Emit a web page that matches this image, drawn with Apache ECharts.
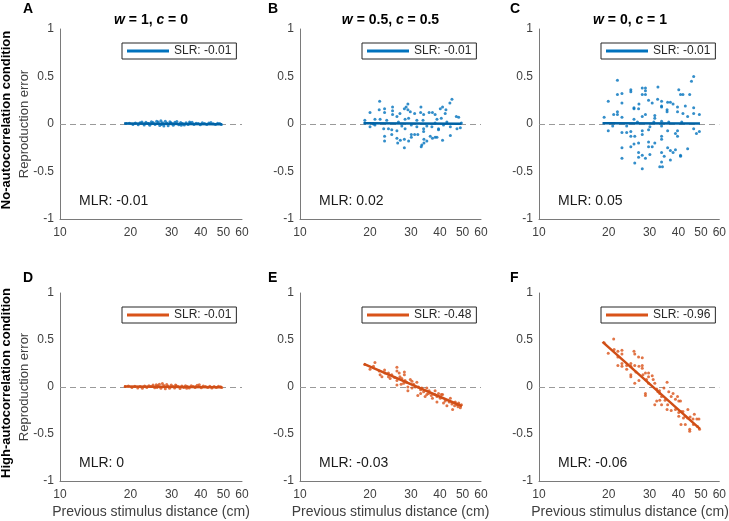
<!DOCTYPE html>
<html>
<head>
<meta charset="utf-8">
<script src="https://cdn.jsdelivr.net/npm/echarts@6/dist/echarts.min.js"></script>
<style>
  html, body { margin: 0; background: #fff; }
  #chart { width: 729px; height: 521px; }
</style>
</head>
<body>
<div id="chart"></div>
<script>
// ---- data ----
const xTicks = [10, 20, 30, 40, 50, 60];
const panelLetters = ['A', 'B', 'C', 'D', 'E', 'F'];
const panelTitles = ['{i|w} = 1, {i|c} = 0', '{i|w} = 0.5, {i|c} = 0.5', '{i|w} = 0, {i|c} = 1'];
const rowLabels = ['No-autocorrelation condition', 'High-autocorrelation condition'];
const slrLabels = ['SLR: -0.01', 'SLR: -0.01', 'SLR: -0.01', 'SLR: -0.01', 'SLR: -0.48', 'SLR: -0.96'];
const mlrLabels = ['MLR: -0.01', 'MLR: 0.02', 'MLR: 0.05', 'MLR: 0', 'MLR: -0.03', 'MLR: -0.06'];

const pointsA = [
  [19.2,0.004],[19.8,0.008],[20.5,-0.005],[21.0,0.010],[21.6,-0.008],[22.0,0.012],[22.4,0.020],[22.9,-0.010],
  [23.3,0.018],[23.8,0.006],[24.2,-0.012],[24.6,0.025],[25.0,0.015],[25.5,-0.006],[25.9,0.030],[26.3,0.022],
  [26.7,-0.015],[27.0,0.035],[27.4,0.012],[27.8,-0.020],[28.2,0.028],[28.6,0.010],[29.0,-0.018],[29.5,0.024],
  [30.0,0.005],[30.5,-0.012],[31.0,0.018],[31.6,0.026],[32.2,-0.008],[32.8,0.015],[33.4,0.004],[34.0,-0.010],
  [34.6,0.012],[35.3,-0.005],[36.0,0.010],[36.7,0.018],[37.4,-0.006],[38.2,0.008],[39.0,0.004],[39.8,-0.008],
  [40.6,0.014],[41.5,0.006],[42.4,-0.004],[43.3,0.010],[44.2,0.016],[45.2,0.002],[46.2,-0.006],[47.2,0.008],
  [48.2,0.004],[49.0,-0.004],[24.0,0.002],[27.2,-0.004],[29.8,0.012],[33.0,-0.014],[35.8,0.020]
];
const pointsB = [
  [22.0,0.24],[20.0,0.12],[21.9,0.15],[23.1,0.16],[23.1,0.12],[25.0,0.18],[25.0,0.14],[25.0,0.10],
  [26.1,0.08],[26.9,0.11],[28.1,0.16],[28.6,0.18],[29.1,0.21],[29.1,0.15],[29.8,0.13],[31.1,0.11],
  [33.1,0.18],[33.0,0.12],[34.0,0.10],[35.9,0.12],[37.1,0.12],[38.1,0.10],[40.1,0.16],[41.0,0.18],
  [42.4,0.15],[44.1,0.22],[45.0,0.26],[42.1,0.11],[19.0,0.04],[21.0,0.05],[22.1,0.05],[23.6,0.04],
  [26.5,0.02],[28.3,0.05],[29.3,0.06],[31.8,0.04],[33.8,0.04],[38.8,0.05],[40.5,0.06],[42.8,0.02],
  [47.0,0.08],[48.1,0.07],[49.4,0.01],[20.0,-0.03],[21.0,-0.01],[22.9,-0.05],[24.0,-0.05],[24.8,-0.06],
  [26.1,-0.07],[27.4,-0.02],[28.3,-0.05],[30.1,-0.01],[31.8,-0.03],[34.0,-0.05],[35.1,-0.02],[36.9,-0.03],
  [39.4,-0.05],[41.4,-0.01],[44.3,-0.03],[47.3,-0.05],[48.9,-0.04],[23.1,-0.13],[23.1,-0.18],[24.8,-0.11],
  [26.1,-0.15],[26.3,-0.20],[27.0,-0.17],[28.1,-0.16],[29.3,-0.18],[30.1,-0.11],[30.1,-0.14],[31.1,-0.11],
  [32.1,-0.11],[34.0,-0.08],[34.1,-0.16],[33.4,-0.22],[34.1,-0.20],[35.1,-0.18],[36.3,-0.13],[37.1,-0.15],
  [38.1,-0.14],[38.8,-0.14],[39.4,-0.06],[41.0,-0.17],[44.3,-0.12],[28.1,-0.25],[33.2,-0.24],[19.0,0.01],
  [38.1,0.01],[20.7,0.00]
];
const pointsC = [
  [21.8,0.46],[19.9,0.24],[21.8,0.31],[22.8,0.32],[22.8,0.22],[24.9,0.36],[24.9,0.34],[27.9,0.38],
  [28.8,0.38],[28.8,0.35],[27.9,0.31],[28.8,0.31],[32.6,0.39],[29.7,0.25],[30.8,0.22],[32.5,0.26],
  [33.8,0.24],[35.9,0.23],[36.9,0.23],[37.9,0.21],[33.8,0.18],[33.8,0.19],[35.7,0.15],[35.7,0.13],
  [40.1,0.36],[41.8,0.31],[40.8,0.31],[44.7,0.31],[45.5,0.45],[46.5,0.50],[39.6,0.18],[39.6,0.13],
  [42.8,0.19],[46.5,0.17],[46.5,0.11],[49.2,0.10],[43.8,0.08],[41.8,0.11],[25.7,0.17],[25.7,0.16],
  [26.9,0.16],[27.0,0.21],[22.8,0.07],[21.8,0.13],[21.8,0.10],[21.0,0.10],[19.1,0.07],[28.8,0.10],
  [27.9,0.08],[31.6,0.09],[31.6,0.06],[25.7,0.05],[26.6,0.02],[31.3,0.02],[33.8,0.03],[36.3,0.02],
  [41.3,0.02],[20.8,-0.02],[23.9,-0.02],[30.1,-0.03],[33.8,-0.02],[19.9,-0.07],[22.8,-0.09],[23.9,-0.09],
  [24.9,-0.08],[27.9,-0.07],[27.9,-0.11],[29.7,-0.06],[33.8,-0.13],[33.8,-0.16],[35.9,-0.07],[38.8,-0.10],
  [39.6,-0.07],[39.6,-0.13],[46.5,-0.05],[47.8,-0.10],[49.2,-0.08],[24.9,-0.13],[25.9,-0.13],[25.7,-0.21],
  [26.9,-0.20],[29.7,-0.19],[29.7,-0.24],[31.6,-0.20],[22.8,-0.25],[22.8,-0.36],[24.9,-0.24],[26.9,-0.30],
  [26.9,-0.35],[27.9,-0.33],[28.8,-0.36],[25.9,-0.41],[27.9,-0.47],[30.1,-0.32],[33.8,-0.30],[34.7,-0.34],
  [35.9,-0.25],[36.9,-0.28],[37.9,-0.30],[38.8,-0.27],[36.9,-0.38],[33.8,-0.40],[33.2,-0.45],[34.1,-0.45],
  [40.8,-0.33],[40.8,-0.34],[43.8,-0.26],[30.8,-0.24]
];
const pointsD = [
  [19.0,0.006],[19.6,0.010],[20.3,-0.004],[20.9,0.008],[21.5,-0.010],[22.0,0.004],[22.5,-0.012],[23.0,0.010],
  [23.5,-0.006],[24.0,0.014],[24.5,0.004],[25.0,0.020],[25.4,-0.008],[25.8,0.024],[26.2,0.012],[26.6,0.030],
  [27.0,-0.014],[27.4,0.036],[27.8,0.016],[28.2,-0.018],[28.6,0.026],[29.0,0.008],[29.4,-0.012],[29.9,0.020],
  [30.4,0.004],[30.9,-0.010],[31.4,0.014],[32.0,0.006],[32.6,-0.016],[33.2,0.010],[33.8,-0.006],[34.4,0.012],
  [35.0,0.004],[35.7,-0.010],[36.4,0.014],[37.1,0.006],[37.8,-0.004],[38.6,0.018],[39.4,0.024],[40.2,-0.008],
  [41.0,0.010],[41.9,0.004],[42.8,-0.006],[43.7,0.008],[44.6,-0.010],[45.6,0.006],[46.6,-0.004],[47.6,0.008],
  [48.6,0.002],[49.2,-0.006],[26.0,-0.004],[31.2,0.022],[34.8,-0.014],[38.0,0.002]
];
const pointsE = [
  [19.0,0.24],[21.0,0.26],[20.0,0.19],[20.7,0.22],[21.9,0.17],[22.1,0.13],[23.1,0.18],[23.2,0.15],
  [24.0,0.11],[24.0,0.15],[24.8,0.13],[25.5,0.10],[26.1,0.21],[26.1,0.17],[26.7,0.15],[26.9,0.11],
  [27.4,0.09],[28.1,0.16],[28.1,0.13],[28.3,0.07],[26.1,0.07],[26.1,0.02],[27.2,0.03],[28.7,0.05],
  [29.1,0.00],[29.1,-0.04],[29.8,0.08],[30.3,0.06],[30.8,0.03],[31.3,0.00],[31.8,0.05],[32.3,0.00],
  [32.1,-0.09],[33.0,-0.03],[33.4,-0.01],[34.0,-0.05],[34.5,-0.10],[35.1,-0.01],[35.7,-0.07],[35.9,-0.04],
  [36.7,-0.09],[37.1,-0.12],[37.9,-0.08],[38.1,-0.04],[38.8,-0.10],[39.4,-0.07],[40.1,-0.12],[40.5,-0.08],
  [41.0,-0.08],[41.4,-0.17],[42.1,-0.15],[42.8,-0.20],[43.8,-0.16],[44.3,-0.12],[45.0,-0.18],[45.3,-0.24],
  [46.5,-0.16],[47.3,-0.19],[48.1,-0.17],[48.9,-0.22],[49.4,-0.19],[47.8,-0.21],[46.2,-0.20],[38.8,-0.16],
  [35.1,-0.08],[33.0,-0.07],[30.3,-0.01],[22.5,0.11],[24.4,0.09],[27.9,0.04]
];
const pointsF = [
  [19.1,0.47],[21.0,0.51],[19.9,0.36],[21.1,0.40],[21.9,0.38],[21.9,0.32],[21.9,0.23],[22.8,0.39],
  [22.8,0.35],[22.8,0.25],[22.8,0.22],[23.9,0.23],[23.9,0.19],[24.9,0.25],[24.9,0.22],[24.9,0.13],
  [24.9,0.11],[25.7,0.38],[25.9,0.35],[25.9,0.23],[26.2,0.16],[26.9,0.32],[27.0,0.22],[27.9,0.31],
  [27.9,0.23],[27.9,0.20],[25.9,0.04],[27.0,0.07],[28.1,0.13],[28.8,0.15],[29.1,0.08],[29.7,0.15],
  [29.7,0.11],[29.7,0.04],[30.8,0.12],[31.1,0.08],[31.6,0.04],[32.2,-0.02],[28.8,-0.07],[28.8,-0.09],
  [32.6,-0.05],[33.2,-0.07],[33.8,-0.10],[33.1,-0.04],[35.7,0.05],[34.6,-0.01],[36.3,-0.05],[37.2,-0.10],
  [37.9,-0.07],[38.8,-0.13],[39.6,-0.10],[40.1,-0.15],[40.8,-0.15],[31.6,-0.19],[33.8,-0.19],[35.0,-0.14],
  [35.7,-0.24],[35.9,-0.19],[37.2,-0.25],[38.8,-0.24],[40.1,-0.27],[41.0,-0.26],[41.8,-0.26],[40.1,-0.31],
  [42.0,-0.33],[43.9,-0.24],[42.8,-0.31],[43.8,-0.33],[44.9,-0.32],[46.2,-0.34],[46.8,-0.29],[48.0,-0.34],
  [49.0,-0.34],[41.0,-0.40],[42.8,-0.40],[44.7,-0.45],[44.7,-0.47],[46.4,-0.40],[48.3,-0.42],[49.3,-0.45],
  [33.2,-0.14],[32.2,-0.15]
];
const fitA = [[18.8, 0.004], [49.2, -0.003]];
const fitB = [[18.8, 0.008], [49.5, 0.002]];
const fitC = [[18.8, 0.008], [49.5, 0.004]];
const fitD = [[18.8, 0.006], [49.2, -0.002]];
const fitE = [[18.8, 0.245], [49.7, -0.205]];
const fitF = [[18.8, 0.48], [49.5, -0.445]];

const allPoints = [pointsA, pointsB, pointsC, pointsD, pointsE, pointsF];
const allFits = [fitA, fitB, fitC, fitD, fitE, fitF];

// ---- layout ----
const FONT = '"Liberation Sans", Arial, sans-serif';
const BLUE = '#0072BD', ORANGE = '#D95319';
const cols = [{ left: 60, width: 182 }, { left: 300, width: 181 }, { left: 539, width: 182 }];
const rows = [{ top: 29, height: 190 }, { top: 293, height: 188 }];
const lx = v => Math.log10(v);

const grids = [], xAxes = [], yAxes = [], series = [], legends = [], graphics = [];

for (let i = 0; i < 6; i++) {
  const r = Math.floor(i / 3), c = i % 3;
  const col = cols[c], row = rows[r];
  const color = r === 0 ? BLUE : ORANGE;
  const lineColor = r === 0 ? '#0063a6' : '#d04e16';
  grids.push({ left: col.left, top: row.top, width: col.width, height: row.height });
  xAxes.push({
    gridIndex: i, type: 'value', min: lx(10), max: lx(60),
    axisLine: { onZero: false, lineStyle: { color: '#7a7a7a', width: 1 } },
    axisTick: { show: false },
    splitLine: { show: false },
    axisLabel: {
      customValues: xTicks.map(lx),
      formatter: v => String(Math.round(Math.pow(10, v))),
      color: '#404040', fontSize: 12, fontFamily: FONT, margin: 8
    }
  });
  yAxes.push({
    gridIndex: i, type: 'value', min: -1, max: 1, interval: 0.5,
    axisLine: { show: true, lineStyle: { color: '#7a7a7a', width: 1 } },
    axisTick: { show: false },
    splitLine: { show: false },
    axisLabel: { formatter: v => String(v), color: '#404040', fontSize: 12, fontFamily: FONT, margin: 6 }
  });
  series.push({
    type: 'scatter', xAxisIndex: i, yAxisIndex: i, z: 10,
    symbolSize: 3, itemStyle: { color: color },
    data: allPoints[i].map(p => [lx(p[0]), p[1]]),
    markLine: {
      silent: true, symbol: 'none', label: { show: false },
      lineStyle: { color: '#9a9a9a', type: [6, 4], width: 1 },
      data: [{ yAxis: 0 }]
    }
  });
  series.push({
    type: 'line', name: 'fit' + i, xAxisIndex: i, yAxisIndex: i, z: 11,
    symbol: 'none', showSymbol: false, lineStyle: { color: lineColor, width: 2.5 }, itemStyle: { color: color },
    data: allFits[i].map(p => [lx(p[0]), p[1]])
  });
  legends.push({
    data: [{ name: 'fit' + i, icon: 'rect' }], left: col.left + 62, top: row.top + 14,
    padding: [2, 5], itemWidth: 42, itemHeight: 3, selectedMode: false,
    itemStyle: { color: color },
    borderColor: '#262626', borderWidth: 1, backgroundColor: '#fff',
    formatter: () => slrLabels[i],
    textStyle: { color: '#262626', fontSize: 12, fontFamily: FONT }
  });
  // panel letter
  graphics.push({
    type: 'text', x: c === 0 ? 23 : (c === 1 ? 268 : 510), y: r === 0 ? 9 : 278,
    style: { text: panelLetters[i], font: 'bold 14px ' + FONT, fill: '#000', textVerticalAlign: 'middle' }
  });
  // MLR text
  graphics.push({
    type: 'text', x: col.left + 19, y: row.top + row.height - 18,
    style: { text: mlrLabels[i], font: '14px ' + FONT, fill: '#1a1a1a', textVerticalAlign: 'middle' }
  });
  if (r === 0) {
    graphics.push({
      type: 'text', x: col.left + col.width / 2, y: 20,
      style: {
        text: panelTitles[c], font: 'bold 14px ' + FONT, fill: '#000',
        textAlign: 'center', textVerticalAlign: 'middle',
        rich: { i: { fontStyle: 'italic', fontWeight: 'bold', fontSize: 14, fontFamily: FONT } }
      }
    });
  } else {
    graphics.push({
      type: 'text', x: col.left + col.width / 2, y: 512,
      style: { text: 'Previous stimulus distance (cm)', font: '14px ' + FONT, fill: '#404040',
        textAlign: 'center', textVerticalAlign: 'middle' }
    });
  }
  if (c === 0) {
    graphics.push({
      type: 'text', x: 24, y: row.top + row.height / 2, rotation: Math.PI / 2,
      style: { text: 'Reproduction error', font: '13px ' + FONT, fill: '#404040',
        textAlign: 'center', textVerticalAlign: 'middle' }
    });
    graphics.push({
      type: 'text', x: 6, y: row.top + row.height / 2 - 4, rotation: Math.PI / 2,
      style: { text: rowLabels[r], font: 'bold 13px ' + FONT, fill: '#000',
        textAlign: 'center', textVerticalAlign: 'middle' }
    });
  }
}

const chart = echarts.init(document.getElementById('chart'), null, { renderer: 'canvas' });
chart.setOption({
  backgroundColor: '#fff',
  animation: false,
  grid: grids,
  xAxis: xAxes,
  yAxis: yAxes,
  legend: legends,
  series: series,
  graphic: graphics
});
</script>
</body>
</html>
